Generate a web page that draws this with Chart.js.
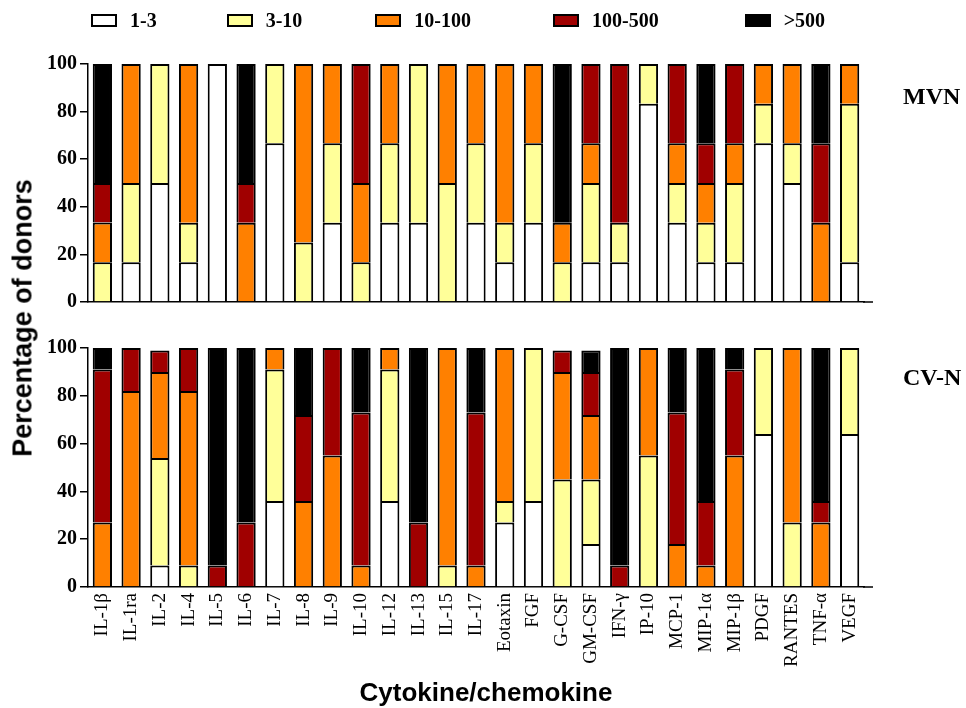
<!DOCTYPE html>
<html>
<head>
<meta charset="utf-8">
<script src="https://cdn.jsdelivr.net/npm/chart.js@4.4.1/dist/chart.umd.min.js"></script>
<style>
  html, body { margin: 0; padding: 0; background: #fff; }
  #wrap { position: relative; width: 966px; height: 708px; overflow: hidden; }
  canvas { position: absolute; left: 0; top: 0; }
  #legend {
    position: absolute; left: 91px; top: 7px; height: 26px;
    display: flex; align-items: center;
    font: bold 20px "Liberation Serif", "Times New Roman", serif; color: #000;
  }
  .item { display: flex; align-items: center; white-space: nowrap; }
  .item:nth-child(1) { margin-right: 70px; }
  .item:nth-child(2) { margin-right: 73px; }
  .item:nth-child(3) { margin-right: 82px; }
  .item:nth-child(4) { margin-right: 86px; }
  .swatch { width: 26px; height: 13px; box-sizing: border-box; border: 2px solid #000; margin-right: 13px; }
  .panel-label {
    position: absolute; left: 903px; transform: translateY(-50%);
    font: bold 24px "Liberation Serif", "Times New Roman", serif; color: #000; white-space: nowrap;
  }
  #ytitle {
    position: absolute; left: 23px; top: 318px; transform: translate(-50%, -50%) rotate(-90deg);
    font: bold 27px "Liberation Sans", Arial, sans-serif; color: #000; white-space: nowrap;
  }
  #xtitle {
    position: absolute; left: 486px; top: 692px; transform: translate(-50%, -50%);
    font: bold 26px "Liberation Sans", Arial, sans-serif; color: #000; white-space: nowrap;
  }
</style>
</head>
<body>
<div id="wrap">
  <canvas id="top" width="966" height="708"></canvas>
  <canvas id="bottom" width="966" height="708"></canvas>
  <div id="legend"></div>
  <div class="panel-label" style="top:96px">MVN</div>
  <div class="panel-label" style="top:377px">CV-N</div>
  <div id="ytitle">Percentage of donors</div>
  <div id="xtitle">Cytokine/chemokine</div>
</div>
<script>
// Cytokines / chemokines on the x axis
const categories = ['IL-1β','IL-1ra','IL-2','IL-4','IL-5','IL-6','IL-7','IL-8','IL-9','IL-10',
  'IL-12','IL-13','IL-15','IL-17','Eotaxin','FGF','G-CSF','GM-CSF','IFN-γ','IP-10',
  'MCP-1','MIP-1α','MIP-1β','PDGF','RANTES','TNF-α','VEGF'];

// Concentration bins (legend)
const bins = ['1-3', '3-10', '10-100', '100-500', '>500'];
const binColors = ['#ffffff', '#ffff99', '#ff8000', '#a00000', '#000000'];

// Percentage of donors per bin, MVN
const mvn_1_3     = [0,16.7,50,16.7,100,0,66.7,0,33.3,0,33.3,33.3,0,33.3,16.7,33.3,0,16.7,16.7,83.3,33.3,16.7,16.7,66.7,50,0,16.7];
const mvn_3_10    = [16.7,33.3,50,16.6,0,0,33.3,25,33.4,16.7,33.4,66.7,50,33.4,16.6,33.4,16.7,33.3,16.6,16.7,16.7,16.6,33.3,16.6,16.7,0,66.6];
const mvn_10_100  = [16.7,50,0,66.7,0,33.3,0,75,33.3,33.3,33.3,0,50,33.3,66.7,33.3,16.6,16.7,0,0,16.7,16.7,16.7,16.7,33.3,33.3,16.7];
const mvn_100_500 = [16.6,0,0,0,0,16.7,0,0,0,50,0,0,0,0,0,0,0,33.3,66.7,0,33.3,16.7,33.3,0,0,33.4,0];
const mvn_500     = [50,0,0,0,0,50,0,0,0,0,0,0,0,0,0,0,66.7,0,0,0,0,33.3,0,0,0,33.3,0];

// Percentage of donors per bin, CV-N
const cvn_1_3     = [0,0,9,0,0,0,36,0,0,0,36,0,0,0,27,36,0,18,0,0,0,0,0,64,0,0,64];
const cvn_3_10    = [0,0,45,9,0,0,55,0,0,0,55,0,9,0,9,64,45,27,0,55,0,0,0,36,27,0,36];
const cvn_10_100  = [27,82,36,73,0,0,9,36,55,9,9,0,91,9,64,0,45,27,0,45,18,9,55,0,73,27,0];
const cvn_100_500 = [64,18,9,18,9,27,0,36,45,64,0,27,0,64,0,0,9,18,9,0,55,27,36,0,0,9,0];
const cvn_500     = [9,0,0,0,91,73,0,28,0,27,0,73,0,27,0,0,0,9,91,0,27,64,9,0,0,64,0];

// y-axis tick values
const yTickValues = [0, 20, 40, 60, 80, 100];

const SERIF = '"Liberation Serif", "Times New Roman", serif';

// HTML legend shared by both panels
const legendEl = document.getElementById('legend');
bins.forEach((b, i) => {
  const item = document.createElement('div');
  item.className = 'item';
  const sw = document.createElement('span');
  sw.className = 'swatch';
  sw.style.background = binColors[i];
  const tx = document.createElement('span');
  tx.textContent = b;
  item.appendChild(sw); item.appendChild(tx);
  legendEl.appendChild(item);
});

// extends the x-axis line a little past the last category
const axisTail = {
  id: 'axisTail',
  afterDraw(chart) {
    const { ctx, chartArea } = chart;
    ctx.save();
    ctx.strokeStyle = '#000';
    ctx.lineWidth = 1.5;
    ctx.beginPath();
    ctx.moveTo(chartArea.right - 1, chartArea.bottom);
    ctx.lineTo(chartArea.right + 9, chartArea.bottom);
    ctx.stroke();
    ctx.restore();
  }
};

function makeDatasets(series) {
  return series.map((vals, i) => ({
    label: bins[i],
    data: vals.map(v => (v === 0 ? null : v)),
    backgroundColor: binColors[i],
    borderColor: '#000',
    borderWidth: 2,
    borderSkipped: 'start',
    barPercentage: 0.67,
    categoryPercentage: 1.0
  }));
}

function panel(canvasId, series, padTop, padBottom, showLabels) {
  return new Chart(document.getElementById(canvasId), {
    type: 'bar',
    data: { labels: categories, datasets: makeDatasets(series) },
    options: {
      responsive: false,
      animation: false,
      devicePixelRatio: 1,
      layout: { padding: { top: padTop, bottom: padBottom, left: 0, right: 102 } },
      plugins: { legend: { display: false }, tooltip: { enabled: false } },
      scales: {
        x: {
          stacked: true,
          grid: { display: false, drawTicks: false },
          border: { display: true, color: '#000', width: 1.5 },
          ticks: {
            display: showLabels,
            autoSkip: false,
            minRotation: 90, maxRotation: 90,
            padding: 6,
            color: '#000',
            font: { family: SERIF, size: 19 }
          },
          afterFit(scale) { scale.height = showLabels ? 121 : 0; }
        },
        y: {
          stacked: true,
          min: 0, max: 100,
          afterBuildTicks(scale) { scale.ticks = yTickValues.map(v => ({ value: v })); },
          grid: { display: true, drawOnChartArea: false, drawTicks: true, tickLength: 8, color: '#000', lineWidth: 1.5 },
          border: { display: true, color: '#000', width: 1.5 },
          ticks: {
            padding: 3,
            color: '#000',
            font: { family: SERIF, size: 20, weight: 'bold' }
          },
          afterFit(scale) { scale.width = 88; }
        }
      }
    },
    plugins: [axisTail]
  });
}

panel('top', [mvn_1_3, mvn_3_10, mvn_10_100, mvn_100_500, mvn_500], 64, 708 - 302, false);
panel('bottom', [cvn_1_3, cvn_3_10, cvn_10_100, cvn_100_500, cvn_500], 348, 0, true);
</script>
</body>
</html>
